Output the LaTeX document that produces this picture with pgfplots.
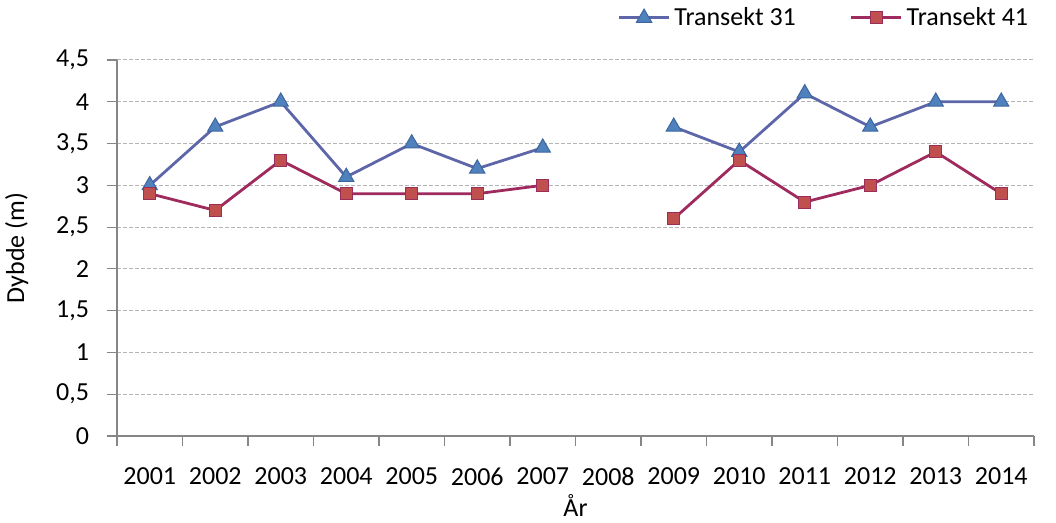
\documentclass[border=0pt]{standalone}
\usepackage{pgfplots}
\pgfplotsset{compat=1.18}
\usepackage{fontspec}
\setmainfont{Carlito}
\definecolor{l31}{HTML}{5D66A8}
\definecolor{f31}{HTML}{4F81BD}
\definecolor{b31}{HTML}{3D65A0}
\definecolor{l41}{HTML}{9E2A5E}
\definecolor{f41}{HTML}{C0504D}
\definecolor{b41}{HTML}{9B2D5A}
\definecolor{gridc}{HTML}{B4B4B4}
\definecolor{axc}{HTML}{868686}
\begin{document}
\begin{tikzpicture}
\begin{axis}[
  scale only axis,
  width=458.5pt, height=188pt,
  xmin=-0.5, xmax=13.5,
  ymin=0, ymax=4.5,
  axis x line*=bottom,
  axis y line*=left,
  axis line style={axc, line width=0.6pt},
  xtick={0,...,13},
  xticklabels={2001,2002,2003,2004,2005,2006,2007,2008,2009,2010,2011,2012,2013,2014},
  minor xtick={-0.5,0.5,...,13.5},
  major x tick style={draw=none},
  minor x tick style={axc, line width=0.6pt},
  ytick={0,0.5,...,4.5},
  y tick style={axc, line width=0.6pt},
  tick align=outside,
  major tick length=5pt,
  minor tick length=5pt,
  ymajorgrids,
  grid style={gridc, dash pattern=on 2pt off 1pt, line width=0.5pt},
  /pgf/number format/assume math mode=true,
  /pgf/number format/use comma,
  yticklabel style={/pgf/number format/fixed},
  tick label style={font=\fontsize{13}{15}\selectfont, black},
  xticklabel style={yshift=-7.5pt},
  yticklabel style={xshift=-5.5pt},
  label style={font=\fontsize{13}{15}\selectfont},
  xlabel={År},
  ylabel={Dybde (m)},
  xlabel style={yshift=2.5pt},
  ylabel style={yshift=7pt},
  unbounded coords=jump,
  legend style={at={(0.772,1.112)}, anchor=center, legend columns=2, draw=none, fill=none,
    font=\fontsize{13}{15}\selectfont, column sep=0pt,
    /tikz/every even column/.append style={column sep=25pt}},
  legend image code/.code={\draw[mark repeat=2,mark phase=2] plot coordinates {(0pt,0pt) (12.5pt,0pt) (25pt,0pt)};},
  clip=false,
]
\addplot[l31, line width=1.4pt, mark=triangle*, mark size=4.4pt,
  mark options={fill=f31, draw=b31, line width=0.5pt}] coordinates {
  (0,3.0) (1,3.7) (2,4.0) (3,3.1) (4,3.5) (5,3.2) (6,3.45) (7,nan)
  (8,3.7) (9,3.4) (10,4.1) (11,3.7) (12,4.0) (13,4.0)};
\addlegendentry{Transekt 31}
\addplot[l41, line width=1.4pt, mark=square*, mark size=3pt,
  mark options={fill=f41, draw=b41, line width=0.5pt}] coordinates {
  (0,2.9) (1,2.7) (2,3.3) (3,2.9) (4,2.9) (5,2.9) (6,3.0) (7,nan)
  (8,2.6) (9,3.3) (10,2.8) (11,3.0) (12,3.4) (13,2.9)};
\addlegendentry{Transekt 41}
\end{axis}
\pgfresetboundingbox
\path[use as bounding box] (-58.5pt,-43.5pt) rectangle (469.5pt,218pt);
\end{tikzpicture}
\end{document}
